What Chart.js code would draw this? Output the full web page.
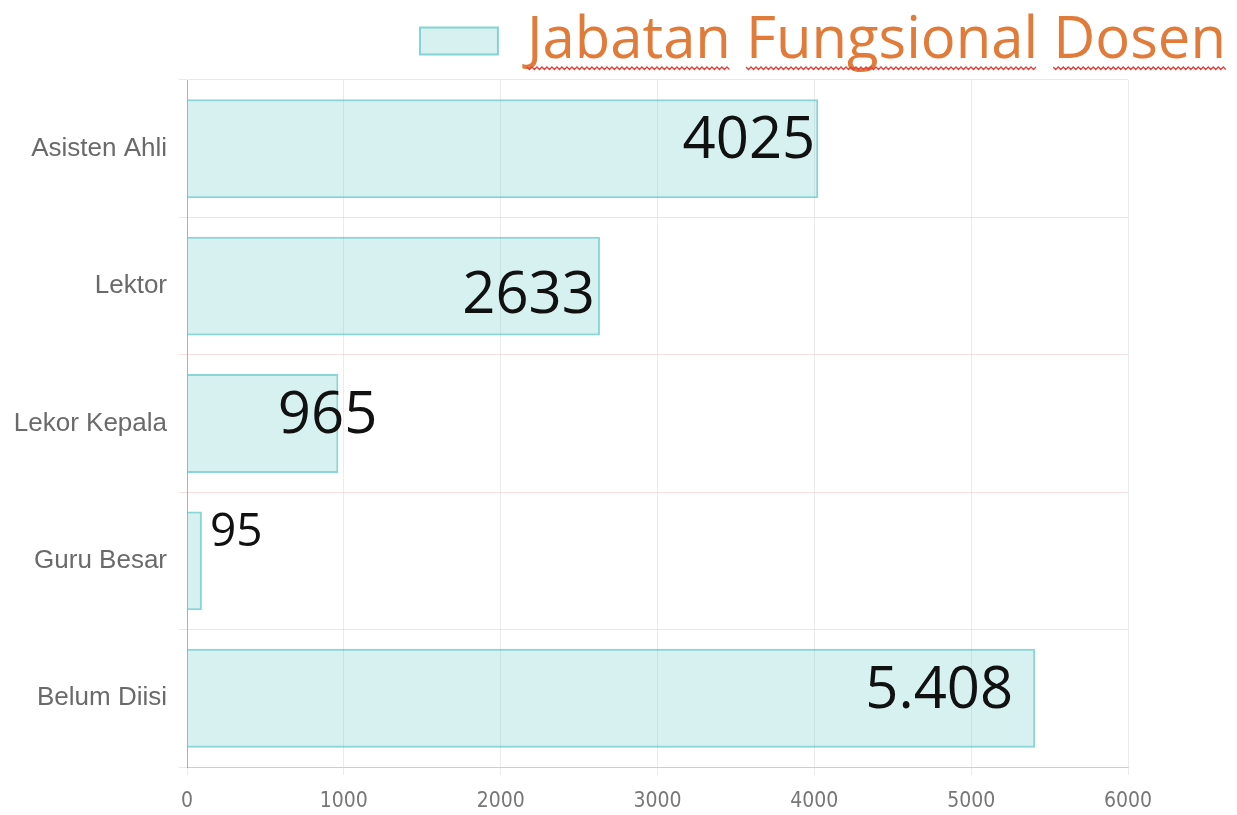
<!DOCTYPE html>
<html>
<head>
<meta charset="utf-8">
<script src="https://cdn.jsdelivr.net/npm/chart.js@4.4.1/dist/chart.umd.min.js"></script>
<style>
    html, body { margin: 0; padding: 0; background: #fff; }
    #wrap { width: 1237px; height: 815px; }
</style>
</head>
<body>
<div id="wrap"><canvas id="jabatanChart"></canvas></div>
<script>
// ── Data ─────────────
const kategori    = ['Asisten Ahli', 'Lektor', 'Lekor Kepala', 'Guru Besar', 'Belum Diisi'];
const jumlahDosen = [4025, 2633, 965, 95, 5408];
const teksLabel   = ['4025', '2633', '965', '95', '5.408'];
const tickX       = [0, 1000, 2000, 3000, 4000, 5000, 6000];
const judulSeri   = 'Jabatan Fungsional Dosen';

// ── Label angka besar di batang ─────────────
(function () {
    // posisi tiap label relatif ke ujung batang (gaya, bukan data)
    const geser = [
        { dx: -3,  dy: 9,   size: 58, align: 'right' },
        { dx: -5,  dy: 27,  size: 58, align: 'right' },
        { dx: 39,  dy: 9,   size: 58, align: 'right' },
        { dx: 8,   dy: -15, size: 46, align: 'left' },
        { dx: -22, dy: 10,  size: 58, align: 'right' }
    ];

    const labelAngka = {
        id: 'labelAngka',
        afterDatasetsDraw(chart) {
            const ctx = chart.ctx;
            const meta = chart.getDatasetMeta(0);
            ctx.save();
            ctx.fillStyle = '#111';
            ctx.textBaseline = 'alphabetic';
            meta.data.forEach((bar, i) => {
                const g = geser[i];
                ctx.font = g.size + 'px "Open Sans", "Noto Sans", sans-serif';
                ctx.textAlign = g.align;
                ctx.fillText(teksLabel[i], bar.x + g.dx, bar.y + g.dy);
            });
            ctx.restore();
        }
    };

    // garis bergelombang merah di bawah judul legenda (seperti cek ejaan)
    const garisEjaan = {
        id: 'garisEjaan',
        afterDraw(chart) {
            const lg = chart.legend;
            if (!lg || !lg.legendHitBoxes || !lg.legendHitBoxes.length) return;
            const hb = lg.legendHitBoxes[0];
            const lbl = lg.options.labels;
            const ctx = chart.ctx;
            ctx.save();
            ctx.font = lbl.font.size + 'px ' + lbl.font.family;
            let x = hb.left + lbl.boxWidth + lbl.font.size / 2;
            const y = hb.top + hb.height - 3;
            ctx.strokeStyle = '#e0403a';
            ctx.lineWidth = 1.3;
            judulSeri.split(' ').forEach((kata) => {
                const w = ctx.measureText(kata).width;
                ctx.beginPath();
                for (let px = 0; px <= w; px += 2.5) {
                    const py = y + (Math.round(px / 2.5) % 2 === 0 ? 0 : 2.5);
                    if (px === 0) ctx.moveTo(x + px, py); else ctx.lineTo(x + px, py);
                }
                ctx.stroke();
                x += w + ctx.measureText(' ').width;
            });
            ctx.restore();
        }
    };

    new Chart(document.getElementById('jabatanChart'), {
        type: 'bar',
        data: {
            labels: kategori,
            datasets: [{
                label: judulSeri,
                data: jumlahDosen,
                backgroundColor: 'rgba(75, 192, 192, 0.22)',
                borderColor: 'rgba(75, 192, 192, 0.65)',
                borderWidth: 2
            }]
        },
        options: {
            indexAxis: 'y',
            responsive: true,
            maintainAspectRatio: false,
            animation: false,
            layout: { padding: { top: 10, right: 9, bottom: 0, left: 0 } },
            scales: {
                x: {
                    min: 0,
                    max: 6000,
                    afterBuildTicks: (scale) => { scale.ticks = tickX.map((v) => ({ value: v })); },
                    afterFit: (scale) => { scale.height = 48; },
                    grid: { color: 'rgba(0, 0, 0, 0.08)', tickLength: 8 },
                    border: { color: 'rgba(230, 160, 160, 0.5)' },
                    ticks: {
                        color: '#777',
                        padding: 14,
                        maxRotation: 0,
                        callback: (v) => String(v),
                        font: { family: '"Liberation Sans Narrow", "DejaVu Sans Condensed", "Liberation Sans", sans-serif', size: 21 }
                    }
                },
                y: {
                    afterFit: (scale) => { scale.width = 187; },
                    grid: { color: 'rgba(230, 160, 160, 0.3)', tickLength: 8 },
                    border: { color: 'rgba(0, 0, 0, 0.25)' },
                    ticks: {
                        color: '#6a6a6a',
                        padding: 12,
                        font: { family: '"Liberation Sans", Arial, sans-serif', size: 26 }
                    }
                },
                kanan: {
                    type: 'linear',
                    position: 'right',
                    afterFit: (scale) => { scale.width = 100; },
                    grid: { display: false },
                    border: { display: false },
                    ticks: { display: false }
                }
            },
            plugins: {
                legend: {
                    position: 'top',
                    align: 'end',
                    labels: {
                        boxWidth: 78,
                        boxHeight: 27,
                        padding: 2,
                        color: '#e07b39',
                        font: { family: '"Open Sans", "Noto Sans", sans-serif', size: 58 }
                    }
                },
                tooltip: { enabled: false }
            }
        },
        plugins: [labelAngka, garisEjaan]
    });
})();
</script>
</body>
</html>
